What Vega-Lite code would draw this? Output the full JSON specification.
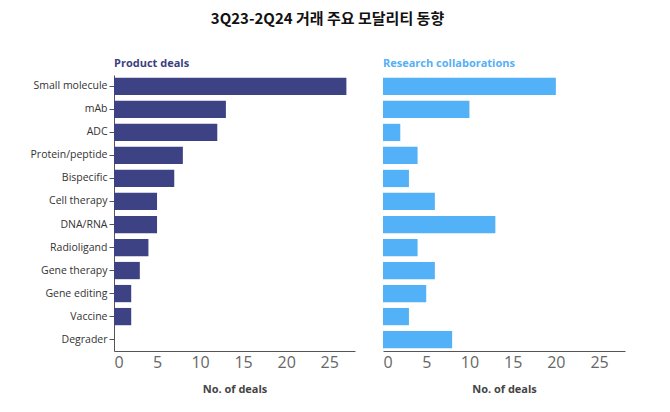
{
  "$schema": "https://vega.github.io/schema/vega-lite/v6.json",
  "background": "white",
  "padding": {"left": 30, "top": 12, "right": 5, "bottom": 5},
  "title": {
    "text": "3Q23-2Q24 거래 주요 모달리티 동향",
    "font": "Noto Sans CJK KR",
    "fontSize": 15,
    "fontWeight": "bold",
    "color": "#111",
    "anchor": "middle",
    "offset": 31
  },
  "config": {
    "view": {"stroke": null},
    "font": "Open Sans",
    "axis": {"grid": false, "domainColor": "#555", "tickColor": "#555"}
  },
  "data": {
    "values": [
      {"modality": "Small molecule", "product": 27, "research": 20},
      {"modality": "mAb", "product": 13, "research": 10},
      {"modality": "ADC", "product": 12, "research": 2},
      {"modality": "Protein/peptide", "product": 8, "research": 4},
      {"modality": "Bispecific", "product": 7, "research": 3},
      {"modality": "Cell therapy", "product": 5, "research": 6},
      {"modality": "DNA/RNA", "product": 5, "research": 13},
      {"modality": "Radioligand", "product": 4, "research": 4},
      {"modality": "Gene therapy", "product": 3, "research": 6},
      {"modality": "Gene editing", "product": 2, "research": 5},
      {"modality": "Vaccine", "product": 2, "research": 3},
      {"modality": "Degrader", "product": 0, "research": 8}
    ]
  },
  "spacing": 28,
  "hconcat": [
    {
      "width": 241,
      "height": 276,
      "title": {
        "text": "Product deals",
        "anchor": "start",
        "frame": "group",
        "color": "#3b3f80",
        "fontSize": 11,
        "fontWeight": "bold",
        "offset": 6
      },
      "mark": {"type": "bar", "color": "#3c4283"},
      "encoding": {
        "y": {
          "field": "modality",
          "type": "nominal",
          "sort": null,
          "scale": {"paddingInner": 0.25, "paddingOuter": 0.12},
          "axis": {"title": null, "labelFontSize": 10.5, "labelColor": "#333", "tickSize": 5, "labelPadding": 2}
        },
        "x": {
          "field": "product",
          "type": "quantitative",
          "scale": {"domain": [0, 28], "nice": false},
          "axis": {
            "values": [0, 5, 10, 15, 20, 25],
            "ticks": false,
            "labelFontSize": 16,
            "labelColor": "#666",
            "labelPadding": 3,
            "title": "No. of deals",
            "titleFontSize": 11,
            "titleColor": "#444",
            "titleFontWeight": "bold",
            "titlePadding": 13
          }
        }
      }
    },
    {
      "width": 242,
      "height": 276,
      "title": {
        "text": "Research collaborations",
        "anchor": "start",
        "frame": "group",
        "color": "#55b0f5",
        "fontSize": 11,
        "fontWeight": "bold",
        "offset": 6
      },
      "mark": {"type": "bar", "color": "#52b1f7"},
      "encoding": {
        "y": {
          "field": "modality",
          "type": "nominal",
          "sort": null,
          "scale": {"paddingInner": 0.25, "paddingOuter": 0.12},
          "axis": null
        },
        "x": {
          "field": "research",
          "type": "quantitative",
          "scale": {"domain": [0, 28], "nice": false},
          "axis": {
            "values": [0, 5, 10, 15, 20, 25],
            "ticks": false,
            "labelFontSize": 16,
            "labelColor": "#666",
            "labelPadding": 3,
            "title": "No. of deals",
            "titleFontSize": 11,
            "titleColor": "#444",
            "titleFontWeight": "bold",
            "titlePadding": 13
          }
        }
      }
    }
  ]
}
